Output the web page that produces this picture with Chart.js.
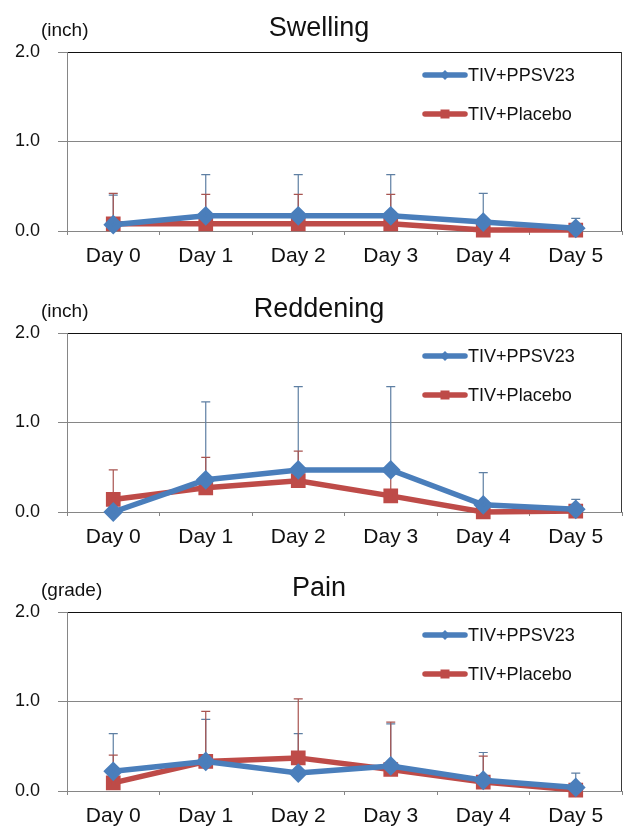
<!DOCTYPE html>
<html>
<head>
<meta charset="utf-8">
<script src="https://cdn.jsdelivr.net/npm/chart.js@4.4.1/dist/chart.umd.min.js"></script>
<style>
  html,body{margin:0;padding:0;background:#fff;}
  body{width:624px;height:830px;position:relative;overflow:hidden;}
  .panel{position:absolute;left:0;width:624px;height:270px;}
</style>
</head>
<body>
<div class="panel" style="top:0px"><canvas id="c1" width="624" height="270"></canvas></div>
<div class="panel" style="top:281px"><canvas id="c2" width="624" height="270"></canvas></div>
<div class="panel" style="top:560px"><canvas id="c3" width="624" height="270"></canvas></div>
<script>
// ---- data ----
const categories = ["Day 0", "Day 1", "Day 2", "Day 3", "Day 4", "Day 5"];
const seriesNames = ["TIV+PPSV23", "TIV+Placebo"];
const yTickLabels = ["0.0", "1.0", "2.0"];

const panelTitles = ["Swelling", "Reddening", "Pain"];
const panelUnits = ["(inch)", "(inch)", "(grade)"];

// Swelling
const swellingPPSV = [0.07, 0.17, 0.17, 0.17, 0.10, 0.03];
const swellingPlacebo = [0.08, 0.08, 0.08, 0.08, 0.01, 0.01];
const swellingPPSVsd = [0.33, 0.46, 0.46, 0.46, 0.32, 0.11];
const swellingPlacebosd = [0.34, 0.33, 0.33, 0.33, 0, 0];

// Reddening
const reddeningPPSV = [0.00, 0.36, 0.47, 0.47, 0.08, 0.03];
const reddeningPlacebo = [0.14, 0.27, 0.35, 0.18, 0.00, 0.01];
const reddeningPPSVsd = [0, 0.87, 0.93, 0.93, 0.36, 0.11];
const reddeningPlacebosd = [0.33, 0.34, 0.33, 0.26, 0, 0];

// Pain
const painPPSV = [0.22, 0.33, 0.20, 0.28, 0.12, 0.04];
const painPlacebo = [0.09, 0.33, 0.37, 0.24, 0.10, 0.01];
const painPPSVsd = [0.42, 0.47, 0.44, 0.47, 0.31, 0.16];
const painPlacebosd = [0.31, 0.56, 0.66, 0.53, 0.29, 0];

const panelValues = [
  [swellingPPSV, swellingPlacebo, swellingPPSVsd, swellingPlacebosd],
  [reddeningPPSV, reddeningPlacebo, reddeningPPSVsd, reddeningPlacebosd],
  [painPPSV, painPlacebo, painPPSVsd, painPlacebosd]
];

// ---- styles ----
const BLUE = "#4A7EBB";
const RED = "#BE4B48";
const BLUE_ERR = "#5E7FA3";
const RED_ERR = "#A85450";
const GRID = "#868686";
const FONT = "'Liberation Sans', Arial, sans-serif";

const errorBars = {
  id: 'errorBars',
  beforeDatasetsDraw(chart) {
    const ctx = chart.ctx;
    const ys = chart.scales.y;
    chart.data.datasets.forEach((ds, i) => {
      const meta = chart.getDatasetMeta(i);
      ctx.save();
      ctx.strokeStyle = ds.errColor;
      ctx.lineWidth = 1.2;
      ds.data.forEach((v, j) => {
        const e = ds.err[j];
        if (!e) return;
        const x = meta.data[j].x;
        const y0 = ys.getPixelForValue(v);
        const y1 = ys.getPixelForValue(v + e);
        ctx.beginPath();
        ctx.moveTo(x, y0); ctx.lineTo(x, y1);
        ctx.moveTo(x - 4.5, y1); ctx.lineTo(x + 4.5, y1);
        ctx.stroke();
      });
      ctx.restore();
    });
  }
};

const decor = {
  id: 'decor',
  afterDraw(chart) {
    const ctx = chart.ctx;
    const a = chart.chartArea;
    const o = chart.options.plugins.decor;
    ctx.save();
    // right border
    ctx.strokeStyle = "#3a3a3a";
    ctx.lineWidth = 1;
    ctx.beginPath();
    ctx.moveTo(a.right - 0.5, a.top);
    ctx.lineTo(a.right - 0.5, a.bottom);
    ctx.stroke();
    // title
    ctx.fillStyle = "#111";
    ctx.font = "27px " + FONT;
    ctx.textAlign = "center";
    ctx.textBaseline = "alphabetic";
    ctx.fillText(o.title, 319, 36);
    // unit
    ctx.font = "19px " + FONT;
    ctx.textAlign = "left";
    ctx.fillText(o.unit, 41, 36);
    // legend
    const rows = [75, 114];
    chart.data.datasets.forEach((ds, i) => {
      const y = rows[i];
      ctx.strokeStyle = ds.borderColor;
      ctx.lineWidth = 5.5;
      ctx.lineCap = "round";
      ctx.beginPath();
      ctx.moveTo(425, y); ctx.lineTo(465, y);
      ctx.stroke();
      ctx.fillStyle = ds.borderColor;
      ctx.beginPath();
      if (ds.pointStyle === 'rectRot') {
        ctx.moveTo(445, y - 5); ctx.lineTo(450, y); ctx.lineTo(445, y + 5); ctx.lineTo(440, y);
      } else {
        ctx.rect(440.5, y - 4.5, 9, 9);
      }
      ctx.closePath();
      ctx.fill();
      ctx.fillStyle = "#111";
      ctx.font = "19px " + FONT;
      ctx.textAlign = "left";
      ctx.textBaseline = "middle";
      ctx.save();
      ctx.translate(468, y + 1);
      ctx.scale(0.95, 1);
      ctx.fillText(seriesNames[i], 0, 0);
      ctx.restore();
    });
    ctx.restore();
  }
};

function makeChart(id, idx) {
  const v = panelValues[idx];
  return new Chart(document.getElementById(id), {
    type: 'line',
    data: {
      labels: categories,
      datasets: [
        {
          label: seriesNames[0], data: v[0], err: v[2], errColor: BLUE_ERR,
          borderColor: BLUE, backgroundColor: BLUE, borderWidth: 5.5,
          pointStyle: 'rectRot', pointRadius: 6, pointHoverRadius: 6,
          tension: 0, clip: false
        },
        {
          label: seriesNames[1], data: v[1], err: v[3], errColor: RED_ERR,
          borderColor: RED, backgroundColor: RED, borderWidth: 5.5,
          pointStyle: 'rect', pointRadius: 6.5, pointHoverRadius: 6.5,
          tension: 0, clip: false
        }
      ]
    },
    options: {
      responsive: false,
      animation: false,
      devicePixelRatio: 1,
      events: [],
      layout: { autoPadding: false, padding: { top: 52, right: 2, left: 0, bottom: 0 } },
      plugins: {
        legend: { display: false },
        tooltip: { enabled: false },
        title: { display: false },
        decor: { title: panelTitles[idx], unit: panelUnits[idx] }
      },
      scales: {
        x: {
          offset: true,
          grid: { offset: true, drawOnChartArea: false, drawTicks: true, tickLength: 4, color: GRID, tickColor: GRID },
          border: { display: true, color: GRID, width: 1 },
          ticks: { color: "#111", font: { family: FONT, size: 21 }, padding: 9, maxRotation: 0, autoSkip: false },
          afterFit(s) { s.height = 39; s.paddingLeft = 0; s.paddingRight = 0; }
        },
        y: {
          min: 0, max: 2,
          ticks: {
            stepSize: 1, color: "#111", font: { family: FONT, size: 18 }, padding: 18,
            callback: (val) => yTickLabels[Math.round(val)]
          },
          grid: {
            color: (c) => (c.tick && c.tick.value === 2 ? "#111" : GRID),
            tickColor: GRID, tickLength: 9, lineWidth: 1
          },
          border: { display: true, color: GRID, width: 1 },
          afterFit(s) { s.width = 67; s.paddingTop = 0; s.paddingBottom = 0; }
        }
      }
    },
    plugins: [errorBars, decor]
  });
}

makeChart('c1', 0);
makeChart('c2', 1);
makeChart('c3', 2);
</script>
</body>
</html>
